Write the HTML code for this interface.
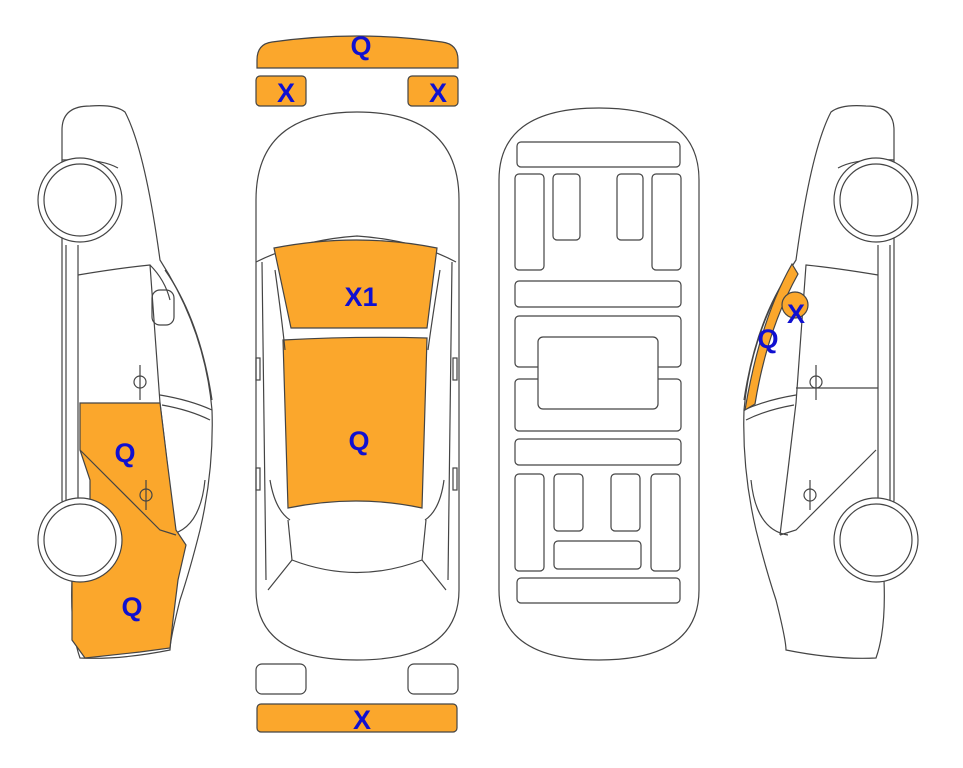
<!DOCTYPE html>
<html><head><style>html,body{margin:0;padding:0;background:#fff}svg{display:block}text{font-family:"Liberation Sans",Arial,sans-serif;font-weight:bold;font-size:27px;fill:#1010d0;text-anchor:middle}</style></head>
<body>
<svg width="963" height="768" viewBox="0 0 963 768" xmlns="http://www.w3.org/2000/svg">
<g stroke="#444" stroke-width="1.2" fill="none">
<!-- top parts -->
<path d="M257,60 Q257,44 272,42 Q357,30 442,42 Q458,44 458,60 L458,68 L257,68 Z" fill="#fba72c"/>
<rect x="256" y="76" width="50" height="30" rx="4" fill="#fba72c"/>
<rect x="408" y="76" width="50" height="30" rx="4" fill="#fba72c"/>
<rect x="256" y="664" width="50" height="30" rx="6" fill="#fff"/>
<rect x="408" y="664" width="50" height="30" rx="6" fill="#fff"/>
<rect x="257" y="704" width="200" height="28" rx="4" fill="#fba72c"/>

<!-- middle top car -->
<path d="M256,200 Q256,112 357,112 Q459,112 459,200 L459,590 Q459,660 357,660 Q256,660 256,590 Z" fill="#fff"/>
<path d="M256,262 Q300,240 357,236 Q415,240 456,262"/>
<path d="M262,262 L266,580 M452,262 L448,580"/>
<path d="M274,248 Q357,232 437,248 L427,328 L291,328 Z" fill="#fba72c"/>
<path d="M283,340 Q357,336 427,338 L422,508 Q357,494 288,508 Z" fill="#fba72c"/>
<path d="M275,270 Q282,320 285,350 M440,270 Q432,320 428,350"/>
<path d="M270,480 Q275,510 290,520 M444,480 Q440,510 425,520"/>
<path d="M288,520 L292,560 Q357,585 422,560 L426,520"/>
<path d="M292,560 L268,590 M422,560 L446,590"/>
<rect x="256" y="358" width="4" height="22"/><rect x="453" y="358" width="4" height="22"/>
<rect x="256" y="468" width="4" height="22"/><rect x="453" y="468" width="4" height="22"/>

<!-- underbody -->
<path d="M499,180 Q499,108 599,108 Q699,108 699,180 L699,590 Q699,660 599,660 Q499,660 499,590 Z" fill="#fff"/>
<g>
<rect x="517" y="142" width="163" height="25" rx="4"/>
<rect x="515" y="174" width="29" height="96" rx="4"/>
<rect x="553" y="174" width="27" height="66" rx="4"/>
<rect x="617" y="174" width="26" height="66" rx="4"/>
<rect x="652" y="174" width="29" height="96" rx="4"/>
<rect x="515" y="281" width="166" height="26" rx="4"/>
<rect x="515" y="316" width="166" height="51" rx="4"/>
<rect x="515" y="379" width="166" height="52" rx="4"/>
<rect x="538" y="337" width="120" height="72" rx="5" fill="#fff"/>
<rect x="515" y="439" width="166" height="26" rx="4"/>
<rect x="515" y="474" width="29" height="97" rx="4"/>
<rect x="554" y="474" width="29" height="57" rx="4"/>
<rect x="611" y="474" width="29" height="57" rx="4"/>
<rect x="651" y="474" width="29" height="97" rx="4"/>
<rect x="554" y="541" width="87" height="28" rx="4"/>
<rect x="517" y="578" width="163" height="25" rx="4"/>
</g>

<!-- left side car -->
<g id="side">
<path d="M62,130 Q62,106 90,106 Q115,104 125,112 Q145,150 160,260 Q205,330 212,410 Q214,470 200,530 Q190,570 180,600 Q170,640 170,650 Q120,660 80,658 Q70,630 72,580 L62,500 L62,240 Z" fill="#fff"/>
<path d="M62,160 Q100,158 118,168 M66,245 L66,500 M78,245 L78,500"/>
<path d="M78,275 Q120,268 150,265 L160,403 L168,470 L176,535 M150,265 Q165,280 170,300"/>
<path d="M165,270 Q200,320 212,400"/>
<path d="M160,395 Q190,400 212,410 M162,405 Q190,410 210,420"/>
<rect x="152" y="290" width="22" height="35" rx="8"/>
<path d="M168,535 Q200,530 205,480"/>
</g>
<!-- left orange -->
<path d="M80,403 L160,403 L167,460 L176,530 L186,545 L178,580 L173,620 L170,648 L140,652 L85,658 L72,640 L72,575 L90,560 L90,480 L80,450 Z" fill="#fba72c"/>
<path d="M80,450 L160,530 L176,535"/>
<path d="M140,365 L140,400 M146,480 L146,510"/><circle cx="140" cy="382" r="6"/><circle cx="146" cy="495" r="6"/>
<circle cx="80" cy="200" r="42" fill="#fff"/><circle cx="80" cy="200" r="36"/>
<circle cx="80" cy="540" r="42" fill="#fff"/><circle cx="80" cy="540" r="36"/>

<!-- right side car (mirror) -->
<g transform="translate(956,0) scale(-1,1)">
<path d="M62,130 Q62,106 90,106 Q115,104 125,112 Q145,150 160,260 Q205,330 212,410 Q214,470 200,530 Q190,570 180,600 Q170,640 170,650 Q120,660 80,658 Q70,630 72,580 L62,500 L62,240 Z" fill="#fff"/>
<path d="M62,160 Q100,158 118,168 M66,245 L66,500 M78,245 L78,500"/>
<path d="M78,275 Q120,268 150,265 L160,403 L168,470 L176,535 M80,450 L160,530 L176,535"/>
<path d="M165,270 Q200,320 212,400"/>
<path d="M160,395 Q190,400 212,410 M162,405 Q190,410 210,420 M78,388 L160,388"/>
<path d="M168,535 Q200,530 205,480"/>
<path d="M140,365 L140,400 M146,480 L146,510"/><circle cx="140" cy="382" r="6"/><circle cx="146" cy="495" r="6"/>
<circle cx="80" cy="200" r="42" fill="#fff"/><circle cx="80" cy="200" r="36"/>
<circle cx="80" cy="540" r="42" fill="#fff"/><circle cx="80" cy="540" r="36"/>
</g>
<path d="M792,264 Q760,320 745,410 L755,404 Q767,330 798,274 Z" fill="#fba72c"/>
<circle cx="795" cy="305" r="13" fill="#fba72c"/>
</g>
<text x="361" y="55">Q</text>
<text x="286" y="102">X</text>
<text x="438" y="102">X</text>
<text x="361" y="306">X1</text>
<text x="359" y="450">Q</text>
<text x="125" y="462">Q</text>
<text x="132" y="616">Q</text>
<text x="362" y="729">X</text>
<text x="768" y="348">Q</text>
<text x="796" y="323">X</text>
</svg>
</body></html>
